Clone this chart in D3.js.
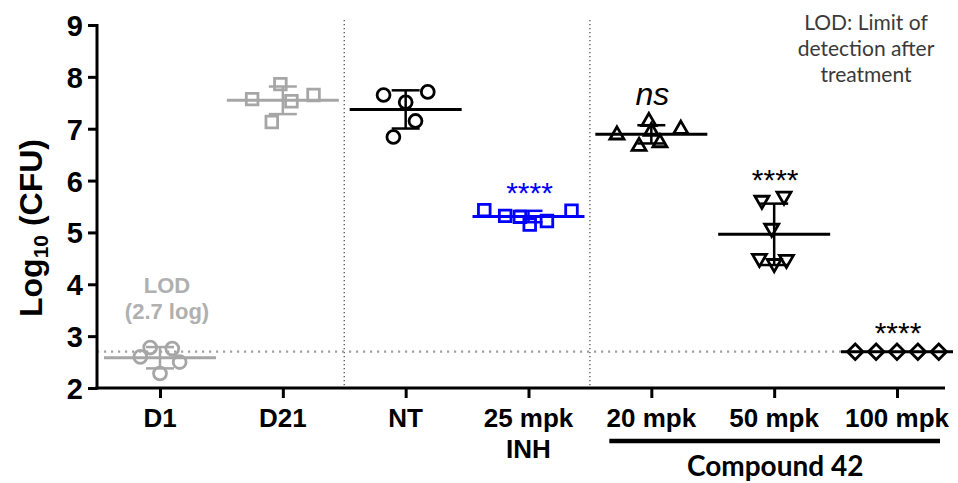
<!DOCTYPE html>
<html><head><meta charset="utf-8">
<script src="https://cdn.jsdelivr.net/npm/d3@7"></script>
<style>body{margin:0;background:#fff} svg{display:block}</style>
</head><body>
<svg id="c" width="958" height="483"></svg>
<script>
// ---- data ----
const categories = ["D1", "D21", "NT", "25 mpk INH", "20 mpk", "50 mpk", "100 mpk"];
const tickLabels = [["D1"], ["D21"], ["NT"], ["25 mpk", "INH"], ["20 mpk"], ["50 mpk"], ["100 mpk"]];
const yTicks = [2, 3, 4, 5, 6, 7, 8, 9];
const valuesD1 = [2.78, 2.76, 2.60, 2.50, 2.28];
const valuesD21 = [7.57, 7.86, 7.53, 7.65, 7.13];
const valuesNT = [7.65, 7.71, 7.51, 7.15, 6.84];
const valuesINH = [5.43, 5.32, 5.30, 5.15, 5.22, 5.42];
const values20 = [6.88, 6.66, 7.14, 6.95, 6.73, 6.99];
const values50 = [5.62, 5.70, 5.08, 4.50, 4.40, 4.48];
const values100 = [2.7, 2.7, 2.7, 2.7, 2.7];
const lodValue = 2.7;
const significance = ["", "", "", "****", "ns", "****", "****"];
// horizontal scatter of points inside a column (fraction of column step)
const jitterD1 = [-0.08, 0.10, -0.16, 0.16, 0.0];
const jitterD21 = [-0.25, -0.02, 0.07, 0.25, -0.09];
const jitterNT = [-0.18, 0.18, 0.0, 0.08, -0.10];
const jitterINH = [-0.36, -0.19, -0.07, 0.01, 0.15, 0.35];
const jitter20 = [-0.28, -0.10, -0.02, 0.0, 0.07, 0.24];
const jitter50 = [-0.10, 0.08, -0.02, -0.12, 0.0, 0.10];
const jitter100 = [-0.34, -0.17, 0.0, 0.17, 0.34];

// ---- styles ----
const GRAY = "#a6a6a6", BLUE = "#0000ff", BLACK = "#000";
const groups = [
  {cat: categories[0], vals: valuesD1, jit: jitterD1, color: GRAY, shape: "circle"},
  {cat: categories[1], vals: valuesD21, jit: jitterD21, color: GRAY, shape: "square"},
  {cat: categories[2], vals: valuesNT, jit: jitterNT, color: BLACK, shape: "circle"},
  {cat: categories[3], vals: valuesINH, jit: jitterINH, color: BLUE, shape: "square"},
  {cat: categories[4], vals: values20, jit: jitter20, color: BLACK, shape: "triUp"},
  {cat: categories[5], vals: values50, jit: jitter50, color: BLACK, shape: "triDown"},
  {cat: categories[6], vals: values100, jit: jitter100, color: BLACK, shape: "diamond"}
];

const svg = d3.select("#c");
const x = d3.scalePoint().domain(categories).range([160, 897]);
const step = x.step();
const y = d3.scaleLinear().domain([2, 9]).range([388, 25]);
const axisLeft = 97, axisRight = 945;
const BOLD = "'Liberation Sans', Arial, Helvetica, sans-serif";
const CAL = "Lato, 'Open Sans', sans-serif";

// separators
[[1, 2], [3, 4]].forEach(([a, b]) => {
  const sx = (x(categories[a]) + x(categories[b])) / 2;
  svg.append("line").attr("x1", sx).attr("x2", sx).attr("y1", 20).attr("y2", y(2))
    .attr("stroke", "#555").attr("stroke-width", 1.3).attr("stroke-dasharray", "1.3,2.7");
});
// LOD line
svg.append("line").attr("x1", axisLeft).attr("x2", axisRight).attr("y1", y(lodValue)).attr("y2", y(lodValue))
  .attr("stroke", "#a0a0a0").attr("stroke-width", 2.2).attr("stroke-dasharray", "2.2,4.8");

// axes
const gy = svg.append("g").attr("transform", `translate(${axisLeft},0)`)
  .call(d3.axisLeft(y).tickValues(yTicks).tickFormat(d3.format("d")).tickSize(9).tickPadding(5));
gy.select(".domain").attr("stroke", "#000").attr("stroke-width", 3).attr("d", `M0,${y(9)-1}V${y(2)+1.5}`);
gy.selectAll(".tick line").attr("stroke", "#000").attr("stroke-width", 3);
gy.selectAll(".tick text").attr("font-family", BOLD).attr("font-weight", "bold").attr("font-size", 29).attr("fill", "#000").attr("dy", "0.36em");

const gx = svg.append("g").attr("transform", `translate(0,${y(2)})`)
  .call(d3.axisBottom(x).tickSize(10).tickFormat(""));
gx.select(".domain").attr("stroke", "#000").attr("stroke-width", 3).attr("d", `M${axisLeft-1.5},0H${axisRight}`);
gx.selectAll(".tick line").attr("stroke", "#000").attr("stroke-width", 3);
categories.forEach((c, i) => {
  const t = svg.append("text").attr("x", x(c)).attr("y", 427).attr("text-anchor", "middle")
    .attr("font-family", BOLD).attr("font-weight", "bold").attr("font-size", 26).attr("fill", "#000");
  tickLabels[i].forEach((l, j) => t.append("tspan").attr("x", x(c)).attr("dy", j ? 31 : 0).text(l));
});

// y title
const yt = svg.append("text").attr("transform", `translate(42,${228}) rotate(-90)`).attr("text-anchor", "middle")
  .attr("font-family", BOLD).attr("font-weight", "bold").attr("font-size", 32).attr("fill", "#000");
yt.append("tspan").text("Log");
yt.append("tspan").attr("font-size", 21).attr("dy", 6).text("10");
yt.append("tspan").attr("dy", -6).text(" (CFU)");

// compound bracket
svg.append("line").attr("x1", x(categories[4]) - 42).attr("x2", x(categories[6]) + 43)
  .attr("y1", 441).attr("y2", 441).attr("stroke", "#000").attr("stroke-width", 4.5);
svg.append("text").attr("x", (x(categories[4]) + x(categories[6])) / 2 + 1).attr("y", 476)
  .attr("text-anchor", "middle").attr("font-family", CAL).attr("font-weight", "bold").attr("font-size", 28).text("Compound 42");

// groups
const shapes = {
  circle: d3.symbol().type(d3.symbolCircle).size(130)(),
  square: d3.symbol().type(d3.symbolSquare).size(135)(),
  triUp: d3.symbol().type(d3.symbolTriangle).size(85)(),
  triDown: d3.symbol().type(d3.symbolTriangle).size(85)(),
  diamond: d3.symbol().type(d3.symbolSquare).size(120)()
};
const rot = {circle: 0, square: 0, triUp: 0, triDown: 180, diamond: 45};
groups.forEach(g => {
  const cx = x(g.cat);
  const m = d3.mean(g.vals), sd = d3.deviation(g.vals) || 0;
  const gg = svg.append("g");
  gg.selectAll("path.pt").data(g.vals).join("path").attr("class", "pt")
    .attr("d", shapes[g.shape])
    .attr("transform", (v, i) => `translate(${cx + g.jit[i] * step},${y(v)}) rotate(${rot[g.shape]})`)
    .attr("fill", "none").attr("stroke", g.color).attr("stroke-width", 2.8);
  gg.append("line").attr("x1", cx - 56).attr("x2", cx + 56).attr("y1", y(m)).attr("y2", y(m))
    .attr("stroke", g.color).attr("stroke-width", 3);
  if (sd > 0) {
    gg.append("line").attr("x1", cx).attr("x2", cx).attr("y1", y(m + sd)).attr("y2", y(m - sd))
      .attr("stroke", g.color).attr("stroke-width", 2.5);
    [m + sd, m - sd].forEach(v => gg.append("line").attr("x1", cx - 14).attr("x2", cx + 14)
      .attr("y1", y(v)).attr("y2", y(v)).attr("stroke", g.color).attr("stroke-width", 2.5));
  }
});

// significance labels
const sigY = {3: 203, 4: 105, 5: 190, 6: 343};
significance.forEach((s, i) => {
  if (!s) return;
  const t = svg.append("text").attr("x", x(categories[i]) + 1).attr("y", sigY[i]).attr("text-anchor", "middle")
    .attr("font-family", BOLD).attr("fill", i === 3 ? BLUE : BLACK).text(s);
  if (s === "ns") t.attr("font-style", "italic").attr("font-size", 32);
  else t.attr("font-size", 30);
});

// LOD annotation
const lodT = svg.append("text").attr("x", 167).attr("y", 293).attr("text-anchor", "middle")
  .attr("font-family", BOLD).attr("font-weight", "bold").attr("font-size", 22).attr("fill", "#b0b0b0");
lodT.append("tspan").attr("x", 167).text("LOD");
lodT.append("tspan").attr("x", 167).attr("dy", 26).text("(2.7 log)");

// note
const note = svg.append("text").attr("x", 866).attr("y", 30).attr("text-anchor", "middle")
  .attr("font-family", CAL).attr("font-size", 21).attr("fill", "#3a3a3a");
["LOD: Limit of", "detection after", "treatment"].forEach((l, i) =>
  note.append("tspan").attr("x", 866).attr("dy", i ? 26 : 0).text(l));
</script>
</body></html>
